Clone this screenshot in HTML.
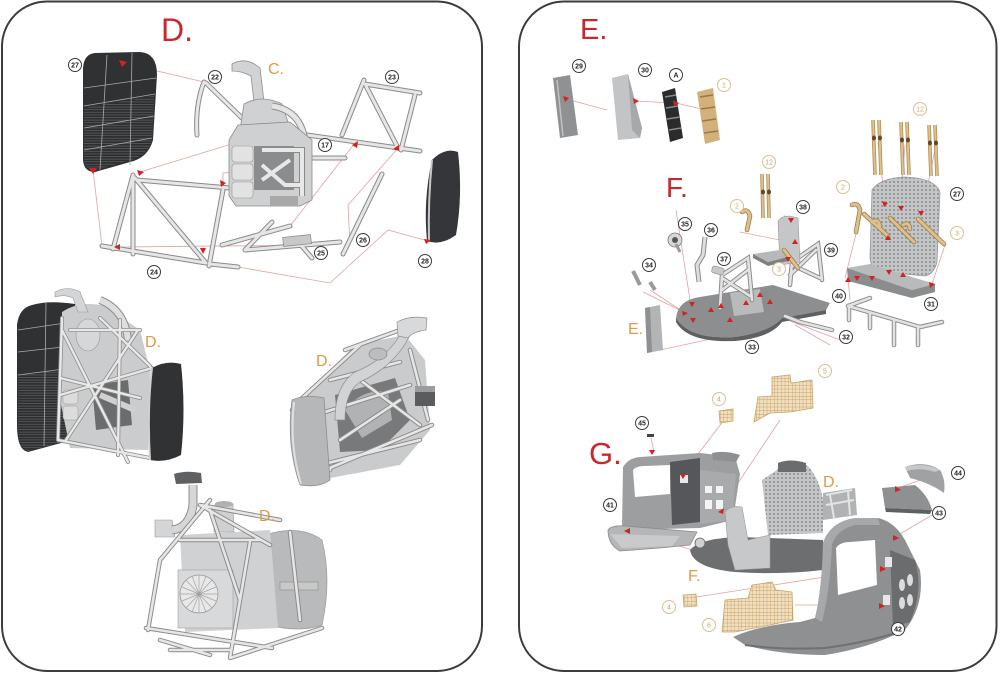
<!DOCTYPE html>
<html><head><meta charset="utf-8"><style>
html,body{margin:0;padding:0;background:#fff;}
svg{display:block;}
.n circle{fill:#fff;stroke:#3a3a3a;stroke-width:1;}
.n text{font-family:"Liberation Sans",sans-serif;font-size:7px;font-weight:bold;text-anchor:middle;fill:#222;}
.o circle{fill:#fff;stroke:#d8c096;stroke-width:1;}
.o text{font-family:"Liberation Sans",sans-serif;font-size:7px;text-anchor:middle;fill:#c9a46a;}
.big{font-family:"Liberation Sans",sans-serif;fill:#c8282c;}
.or{font-family:"Liberation Sans",sans-serif;fill:#df9a48;}
.rl{stroke:#e2a2a2;stroke-width:0.8;fill:none;}
.ar{fill:#d42222;}
</style></head><body>
<svg width="1000" height="679" viewBox="0 0 1000 679" xmlns="http://www.w3.org/2000/svg">
<defs>
<pattern id="dots" width="4" height="4" patternUnits="userSpaceOnUse"><rect width="4" height="4" fill="#c4c5c6"/><circle cx="2" cy="2" r="1" fill="#8a8c8e"/></pattern>
<pattern id="grid" width="3.6" height="3.6" patternUnits="userSpaceOnUse"><rect width="3.6" height="3.6" fill="#f1dfbd"/><path d="M0,0H3.6M0,0V3.6" stroke="#b38a52" stroke-width="0.6"/></pattern>
<pattern id="louv" width="6" height="2.6" patternUnits="userSpaceOnUse"><rect width="6" height="2.6" fill="#2c2e30"/><path d="M0,0.5H6" stroke="#6a6c6e" stroke-width="0.6"/></pattern>
<g id="tA">
<path d="M133,175 L113,249 M133,176 L133,254 M135,178 L206,263 M137,180 L230,188 M223,190 L209,266 M102,246 L206,263 M210,264 L238,267"/>
<path d="M204,82 Q195,105 197,135 M206,83 L244,120"/>
<path d="M364,80 L342,135 M365,84 L420,93 M366,86 L398,148 M415,95 L401,150 M258,128 L420,151"/>
<path d="M222,245 L290,226 M245,250 L272,222 M245,250 L340,242 M300,244 L312,258 M343,254 L382,174 M312,158 L345,158"/>
</g>
<g id="tB">
<path d="M62,318 L58,440 M58,440 L150,458 M60,395 L152,368 M62,330 L128,462 M66,440 L138,330 M60,378 L140,398 M100,318 L150,366 M70,330 L140,330 M120,320 L118,455"/>
</g>
<g id="tC">
<path d="M300,400 L360,345 M292,410 L330,470 M300,420 L410,385 M300,470 L420,440 M325,470 L432,425 M330,380 L400,362 M345,350 L400,330 M410,350 L428,420 M360,380 L420,425 M340,440 L400,400"/>
</g>
<g id="tD">
<path d="M146,628 L272,648 M148,630 L160,560 M160,560 L210,500 M200,505 L270,545 M210,510 L240,600 M250,542 L230,658 M230,658 L322,628 M290,532 L300,620 M200,505 L280,520 M180,540 L260,540 M230,650 L170,650 M160,640 L210,655"/>
</g>
</defs>

<!-- panels -->
<rect x="2" y="1.5" width="480" height="669.5" rx="45" ry="45" fill="#fff" stroke="#3c3c3c" stroke-width="2"/>
<rect x="519" y="1.5" width="477.5" height="669.5" rx="45" ry="45" fill="#fff" stroke="#3c3c3c" stroke-width="2"/>

<!-- ============ LEFT TOP ============ -->
<text x="161" y="41" class="big" font-size="32">D.</text>
<text x="268" y="74" class="or" font-size="16">C.</text>

<path class="rl" d="M123,63 L204,82 M93,170 L102,246 M140,172 L238,142 M223,183 L223,173 L236,172 M118,247 L330,245 M238,267 L330,283 L388,230 L428,241 M355,143 L290,226 M398,148 L348,205 L350,245"/>

<!-- panel 27 -->
<path d="M95,53 L140,52 Q157,53 157,75 L153,140 Q148,158 130,162 L95,172 Q84,172 83,160 L83,68 Q84,54 95,53 Z" fill="#2f3133"/>
<path d="M84,108 L154,96 L152,140 Q147,156 130,160 L95,170 Q85,170 84,160 Z" fill="url(#louv)"/>
<path d="M84,88 L156,78 M84,106 L155,94 M84,128 L154,116 M84,150 L152,138 M107,55 L100,170 M132,53 L130,165" stroke="#a8aaac" stroke-width="0.8" fill="none"/>

<!-- panel 28 -->
<path d="M432,160 Q445,147 458,152 Q463,195 456,235 Q441,246 427,241 Q423,200 432,160 Z" fill="#34363a"/>
<path d="M432,160 Q428,200 429,240" stroke="#c8c8c8" stroke-width="2" fill="none"/>

<use href="#tA" stroke="#8a8a8a" stroke-width="5" fill="none" stroke-linecap="round"/>
<use href="#tA" stroke="#e6e6e6" stroke-width="3" fill="none" stroke-linecap="round"/>
<rect x="283" y="236" width="28" height="9" fill="#c8c8c8" stroke="#888" stroke-width="0.7" transform="rotate(-6 297 240)"/>

<!-- engine C -->
<path d="M232,64 Q246,56 260,68 L264,102 L254,102 L251,76 Q242,71 232,71 Z" fill="#d2d3d4" stroke="#8e8e8e" stroke-width="0.8"/>
<path d="M244,104 Q262,94 282,104 L290,128 L240,130 Z" fill="#d0d1d2" stroke="#8e8e8e" stroke-width="0.8"/>
<path d="M272,106 Q300,110 305,140" stroke="#8e8e8e" stroke-width="7" fill="none"/>
<path d="M272,106 Q300,110 305,140" stroke="#e4e4e4" stroke-width="5" fill="none"/>
<path d="M238,125 L290,122 L312,140 L312,200 L300,206 L236,206 L229,196 L229,140 Z" fill="#cfd0d1" stroke="#8a8a8a" stroke-width="0.8"/>
<rect x="254" y="146" width="40" height="44" fill="#8a8c8e"/>
<rect x="232" y="146" width="21" height="16" rx="3" fill="#e2e2e2" stroke="#999" stroke-width="0.6"/>
<rect x="232" y="164" width="21" height="16" rx="3" fill="#e2e2e2" stroke="#999" stroke-width="0.6"/>
<rect x="232" y="182" width="21" height="16" rx="3" fill="#e2e2e2" stroke="#999" stroke-width="0.6"/>
<path d="M262,150 L302,150 L302,196 M262,165 L285,185 L302,185 M262,180 L290,160" stroke="#8a8a8a" stroke-width="6" fill="none"/>
<path d="M262,150 L302,150 L302,196 M262,165 L285,185 L302,185 M262,180 L290,160" stroke="#e8e8e8" stroke-width="4" fill="none"/>
<rect x="270" y="196" width="28" height="10" fill="#a8a8a8"/>

<g class="ar">
<polygon points="119,60 127,62 122,67"/><polygon points="89,168 97,168 93,174"/><polygon points="137,170 144,172 139,176"/>
<polygon points="220,180 226,183 221,187"/><polygon points="114,247 120,244 120,250"/><polygon points="200,248 206,248 203,254"/>
<polygon points="352,145 358,141 357,148"/><polygon points="393,149 399,145 399,151"/><polygon points="424,239 431,240 426,244"/>
</g>

<g class="n"><circle cx="75" cy="65" r="6.5"/><text x="75" y="67.5">27</text></g>
<g class="n"><circle cx="215" cy="77" r="6.5"/><text x="215" y="79.5">22</text></g>
<g class="n"><circle cx="392" cy="77" r="6.5"/><text x="392" y="79.5">23</text></g>
<g class="n"><circle cx="325" cy="145" r="6.5"/><text x="325" y="147.5">17</text></g>
<g class="n"><circle cx="363" cy="240" r="6.5"/><text x="363" y="242.5">26</text></g>
<g class="n"><circle cx="321" cy="253" r="6.5"/><text x="321" y="255.5">25</text></g>
<g class="n"><circle cx="425" cy="261" r="6.5"/><text x="425" y="263.5">28</text></g>
<g class="n"><circle cx="154" cy="272" r="6.5"/><text x="154" y="274.5">24</text></g>

<!-- ============ LEFT BOTTOM ============ -->
<!-- assembly 1 -->
<path d="M32,305 Q48,300 75,304 L72,440 L28,452 Q17,450 17,425 L17,325 Q19,308 32,305 Z" fill="#2f3133"/>
<path d="M18,375 L70,368 L70,440 L28,451 Q18,449 18,425 Z" fill="url(#louv)"/>
<path d="M18,330 L72,322 M18,352 L72,346 M18,375 L72,368 M46,302 L44,446" stroke="#a8aaac" stroke-width="0.8" fill="none"/>
<path d="M62,312 Q80,300 105,306 L140,330 L150,370 L148,450 L70,448 L60,400 Z" fill="#cbcccd"/>
<path d="M55,292 Q68,285 80,292 L88,312 L78,312 L73,298 Q64,294 55,297 Z" fill="#d4d5d6" stroke="#999" stroke-width="0.6"/>
<path d="M100,300 Q125,310 128,340" stroke="#8e8e8e" stroke-width="8" fill="none"/>
<path d="M100,300 Q125,310 128,340" stroke="#dedede" stroke-width="6" fill="none"/>
<ellipse cx="88" cy="335" rx="12" ry="16" fill="#d6d7d8" stroke="#9a9a9a" stroke-width="0.6"/>
<path d="M92,385 L128,380 L132,425 L96,430 Z" fill="#6a6c6e"/>
<path d="M100,395 L135,410" stroke="#d0d0d0" stroke-width="6"/>
<rect x="63" y="390" width="15" height="14" rx="3" fill="#dcdcdc" stroke="#999" stroke-width="0.5"/><rect x="63" y="406" width="15" height="14" rx="3" fill="#dcdcdc" stroke="#999" stroke-width="0.5"/>
<use href="#tB" stroke="#8e8e8e" stroke-width="4" fill="none" stroke-linecap="round"/>
<use href="#tB" stroke="#e8e8e8" stroke-width="2.4" fill="none" stroke-linecap="round"/>
<path d="M152,368 Q166,360 181,364 Q186,410 181,455 Q166,463 150,460 Q146,410 152,368 Z" fill="#303234"/>
<path d="M152,368 Q147,410 150,460" stroke="#cfcfcf" stroke-width="2" fill="none"/>
<text x="145" y="347" class="or" font-size="16">D.</text>

<!-- assembly 2 -->
<path d="M300,400 L355,345 L405,335 L425,360 L430,430 L400,465 L330,478 Z" fill="#cacbcc"/>
<path d="M335,395 L395,378 L410,420 L380,450 L340,452 Z" fill="#77797b"/>
<path d="M345,410 Q362,388 388,392 L392,420 L362,438 Z" fill="#b0b2b4"/>
<use href="#tC" stroke="#8a8a8a" stroke-width="4.5" fill="none" stroke-linecap="round"/>
<use href="#tC" stroke="#e6e6e6" stroke-width="2.6" fill="none" stroke-linecap="round"/>
<path d="M400,335 Q385,360 355,372 Q335,385 335,420 L345,420 Q345,392 360,382 Q395,366 410,335 Z" fill="#d2d3d4" stroke="#8e8e8e" stroke-width="0.7"/>
<path d="M397,322 Q410,315 427,318 L426,330 Q412,332 408,338 L398,336 Z" fill="#d8d9da" stroke="#8e8e8e" stroke-width="0.7"/>
<ellipse cx="378" cy="354" rx="9" ry="6" fill="#bcbdbe" stroke="#888" stroke-width="0.7"/>
<rect x="415" y="386" width="20" height="20" fill="#5a5c5e"/><rect x="415" y="386" width="20" height="6" fill="#9a9c9e"/>
<path d="M292,400 Q306,394 324,398 L330,480 Q320,488 300,485 Q286,445 292,400 Z" fill="#b6b7b8" stroke="#8e8e8e" stroke-width="0.8"/>
<path d="M294,402 Q289,445 301,484" stroke="#e0e0e0" stroke-width="2" fill="none"/>
<text x="316" y="366" class="or" font-size="16">D.</text>

<!-- assembly 3 -->
<path d="M265,535 Q300,524 322,540 Q332,580 322,625 Q300,633 268,625 Z" fill="#b9babb" stroke="#9a9a9a" stroke-width="0.7"/>
<path d="M180,535 L270,530 L278,628 L185,632 Z" fill="#d0d1d2"/>
<path d="M215,504 L233,504 L234,532 L214,532 Z" fill="#cfd0d1" stroke="#999" stroke-width="0.6"/>
<ellipse cx="224" cy="504" rx="9" ry="3" fill="#b0b1b2"/>
<rect x="178" y="570" width="55" height="58" fill="#d8d9da" stroke="#a0a0a0" stroke-width="0.6"/>
<circle cx="199" cy="594" r="19" fill="#e8e8e8" stroke="#9a9a9a" stroke-width="0.8"/>
<path d="M199,594 L199,575 M199,594 L212,580 M199,594 L218,594 M199,594 L212,608 M199,594 L199,613 M199,594 L186,608 M199,594 L180,594 M199,594 L186,580 M199,594 L206,576 M199,594 L216,587 M199,594 L216,601 M199,594 L206,612 M199,594 L192,612 M199,594 L182,601 M199,594 L182,587 M199,594 L192,576" stroke="#a4a4a4" stroke-width="0.7"/>
<rect x="280" y="582" width="38" height="8" fill="#c8c8c8" stroke="#8a8a8a" stroke-width="0.6"/>
<path d="M155,520 L172,520 L175,537 L155,537 Z" fill="#d4d5d6" stroke="#999" stroke-width="0.6"/>
<path d="M172,530 Q190,528 193,505 L193,485" stroke="#8e8e8e" stroke-width="9" fill="none"/>
<path d="M172,530 Q190,528 193,505 L193,485" stroke="#d6d7d8" stroke-width="7" fill="none"/>
<path d="M174,474 Q186,470 201,473 L202,483 L176,484 Z" fill="#5e6062"/>
<use href="#tD" stroke="#8a8a8a" stroke-width="4.5" fill="none" stroke-linecap="round"/>
<use href="#tD" stroke="#e6e6e6" stroke-width="2.6" fill="none" stroke-linecap="round"/>
<text x="259" y="521" class="or" font-size="16">D.</text>

<!-- ============ RIGHT TOP E ============ -->
<text x="580" y="39" class="big" font-size="29">E.</text>
<path class="rl" d="M566,99 L607,110 M636,101 L672,103 M676,103 L706,110"/>
<polygon points="553,78 570,75 578,135 560,138" fill="#8f9193"/>
<path d="M557,80 L563,136" stroke="#c0c2c4" stroke-width="1.5"/>
<polygon points="612,78 628,74 642,128 640,138 618,140" fill="#c2c4c6"/>
<polygon points="628,74 642,128 640,138 632,130" fill="#a6a8aa"/>
<polygon points="662,92 675,88 683,138 670,142" fill="#2a2b2c"/>
<path d="M665,97 L676,95 M666,108 L678,106 M667,119 L680,117 M669,130 L681,128" stroke="#8a8a8a" stroke-width="1.5"/>
<polygon points="697,92 713,88 720,140 705,144" fill="#d2b27a"/>
<path d="M700,97 L713,95 M701,109 L715,107 M702,121 L716,119 M704,133 L718,131" stroke="#9a7a44" stroke-width="1.5"/>
<g class="ar"><polygon points="563,96 569,98 565,102"/><polygon points="633,98 639,101 634,104"/><polygon points="673,100 679,103 674,106"/></g>
<g class="n"><circle cx="579" cy="66" r="6.5"/><text x="579" y="68.5">29</text></g>
<g class="n"><circle cx="645" cy="70" r="6.5"/><text x="645" y="72.5">30</text></g>
<g class="n"><circle cx="676" cy="75" r="6.5"/><text x="676" y="77.5">A</text></g>
<g class="o"><circle cx="724" cy="85" r="6.5"/><text x="724" y="87.5">1</text></g>

<!-- ============ RIGHT F ============ -->
<text x="666" y="197" class="big" font-size="28">F.</text>
<path class="rl" d="M676,210 L690,300 M650,290 L688,315 M643,292 L700,320 M660,350 L720,337 M795,325 L830,345 M782,318 L840,340 M740,232 L795,243 M784,215 L800,263 M848,278 L850,300 M857,230 L845,278 M878,142 L885,203 M905,145 L900,208 M935,150 L922,213 M945,245 L932,284 M888,240 L888,268 M905,240 L903,276"/>
<path d="M676,318 Q678,300 700,297 L773,285 L830,303 L826,310 L782,318 Q770,332 735,337 Q690,340 676,318 Z" fill="#8c8e90"/>
<path d="M676,318 Q690,340 735,337 Q770,332 782,318 L826,310 L826,314 L782,322 Q770,338 735,341 Q688,343 676,322 Z" fill="#5e6062"/>
<path d="M730,293 L760,289 L764,312 L734,316 Z" fill="#b8babc"/>
<path d="M760,289 L764,312 L770,310 L767,288 Z" fill="#8a8c8e"/>
<path d="M720,308 L722,275 L748,258 L752,300 M722,278 L750,296 M722,290 L748,270 M790,285 L792,262 L818,244 L822,280 M792,265 L820,278 M790,275 L816,250 M800,322 L832,330 M785,316 L800,322" stroke="#8a8a8a" stroke-width="4.5" fill="none" stroke-linecap="round"/>
<path d="M720,308 L722,275 L748,258 L752,300 M722,278 L750,296 M722,290 L748,270 M790,285 L792,262 L818,244 L822,280 M792,265 L820,278 M790,275 L816,250 M800,322 L832,330 M785,316 L800,322" stroke="#e2e2e2" stroke-width="2.6" fill="none" stroke-linecap="round"/>
<path d="M778,222 Q780,216 790,216 L798,218 L800,262 L780,265 Z" fill="#c4c6c8" stroke="#999" stroke-width="0.6"/>
<path d="M753,254 L780,250 L792,256 L768,262 Z" fill="#b6b8ba"/>
<path d="M753,254 L768,262 L792,256 L792,260 L768,266 L753,258 Z" fill="#7e8082"/>
<circle cx="675" cy="240" r="7" fill="#d8d8d8" stroke="#777" stroke-width="0.8"/><circle cx="675" cy="240" r="3" fill="#555"/>
<path d="M676,244 L680,252" stroke="#999" stroke-width="3"/>
<path d="M705,237 L703,255 L697,265 L699,282" stroke="#8a8a8a" stroke-width="5" fill="none"/>
<path d="M705,237 L703,255 L697,265 L699,282" stroke="#dedede" stroke-width="3" fill="none"/>
<rect x="712" y="267" width="12" height="7" rx="2" fill="#c8c8c8" stroke="#888" stroke-width="0.6" transform="rotate(15 718 270)"/>
<path d="M633,271 L640,285 M650,282 L655,290" stroke="#9a9a9a" stroke-width="4"/>
<path d="M645,308 L660,305 L663,350 L647,353 Z" fill="#b2b4b6"/>
<path d="M645,308 L650,307 L652,352 L647,353 Z" fill="#8e9092"/>
<path d="M762,174 L763,218 M768,174 L769,218 M873,120 L875,175 M879,120 L881,175 M901,122 L903,175 M907,122 L909,175 M929,125 L931,176 M935,125 L937,176" stroke="#b48e55" stroke-width="3.6"/>
<path d="M762,174 L763,218 M768,174 L769,218 M873,120 L875,175 M879,120 L881,175 M901,122 L903,175 M907,122 L909,175 M929,125 L931,176 M935,125 L937,176" stroke="#dcc08e" stroke-width="2"/>
<g fill="#5a4a30"><ellipse cx="763" cy="192" rx="2" ry="2.5"/><ellipse cx="769" cy="192" rx="2" ry="2.5"/><ellipse cx="874" cy="138" rx="2" ry="2.5"/><ellipse cx="880" cy="138" rx="2" ry="2.5"/><ellipse cx="902" cy="140" rx="2" ry="2.5"/><ellipse cx="908" cy="140" rx="2" ry="2.5"/><ellipse cx="930" cy="143" rx="2" ry="2.5"/><ellipse cx="936" cy="143" rx="2" ry="2.5"/></g>
<path d="M872,190 Q880,178 905,177 Q935,178 940,192 L937,262 Q934,274 925,276 L882,272 Q871,270 870,258 Z" fill="url(#dots)" stroke="#9a9a9a" stroke-width="0.8"/>
<polygon points="847,268 870,264 935,284 912,290" fill="#b8babc"/>
<polygon points="847,268 912,290 935,284 935,292 912,298 848,281" fill="#8a8c8e"/>
<path d="M848,306 L870,298 M848,306 L920,327 L942,322 M849,307 L849,320 M870,313 L870,328 M894,320 L894,345 M918,328 L918,345" stroke="#8a8a8a" stroke-width="4.5" fill="none" stroke-linecap="round"/>
<path d="M848,306 L870,298 M848,306 L920,327 L942,322 M849,307 L849,320 M870,313 L870,328 M894,320 L894,345 M918,328 L918,345" stroke="#e2e2e2" stroke-width="2.6" fill="none" stroke-linecap="round"/>
<path d="M742,212 Q748,208 750,216 L747,230 M784,250 L798,268 M852,205 Q858,202 860,210 L856,232 M864,214 L888,236 M890,218 L914,242 M918,219 L944,244 M872,222 Q878,218 880,226 M903,225 Q909,221 910,229" stroke="#a07c44" stroke-width="4.6" fill="none" stroke-linecap="round"/>
<path d="M742,212 Q748,208 750,216 L747,230 M784,250 L798,268 M852,205 Q858,202 860,210 L856,232 M864,214 L888,236 M890,218 L914,242 M918,219 L944,244 M872,222 Q878,218 880,226 M903,225 Q909,221 910,229" stroke="#dcc08e" stroke-width="3" fill="none" stroke-linecap="round"/>
<g class="ar">
<polygon points="792,244 798,244 795,239"/><polygon points="785,257 791,257 788,262"/><polygon points="788,218 794,218 791,223"/>
<polygon points="689,302 695,302 692,307"/><polygon points="682,311 688,313 683,316"/><polygon points="690,318 696,318 693,323"/>
<polygon points="708,312 714,312 711,307"/><polygon points="718,308 724,308 721,303"/><polygon points="727,322 733,322 730,317"/>
<polygon points="743,305 749,305 746,300"/><polygon points="757,297 763,297 760,292"/><polygon points="767,304 773,304 770,299"/>
<polygon points="882,201 888,203 884,207"/><polygon points="898,206 904,206 901,211"/><polygon points="918,211 924,211 921,216"/>
<polygon points="885,240 891,240 888,235"/><polygon points="869,276 875,276 872,281"/><polygon points="886,270 892,270 889,275"/>
<polygon points="900,277 906,277 903,272"/><polygon points="929,282 935,284 930,288"/><polygon points="845,282 851,282 848,277"/><polygon points="854,276 860,276 857,281"/>
</g>
<g class="o"><circle cx="920" cy="109" r="6.5"/><text x="920" y="111.5">12</text></g>
<g class="o"><circle cx="769" cy="162" r="6.5"/><text x="769" y="164.5">12</text></g>
<g class="o"><circle cx="843" cy="187" r="6.5"/><text x="843" y="189.5">2</text></g>
<g class="n"><circle cx="957" cy="194" r="6.5"/><text x="957" y="196.5">27</text></g>
<g class="o"><circle cx="737" cy="206" r="6.5"/><text x="737" y="208.5">2</text></g>
<g class="n"><circle cx="803" cy="207" r="6.5"/><text x="803" y="209.5">38</text></g>
<g class="n"><circle cx="685" cy="224" r="6.5"/><text x="685" y="226.5">35</text></g>
<g class="n"><circle cx="711" cy="230" r="6.5"/><text x="711" y="232.5">36</text></g>
<g class="o"><circle cx="957" cy="233" r="6.5"/><text x="957" y="235.5">3</text></g>
<g class="n"><circle cx="831" cy="250" r="6.5"/><text x="831" y="252.5">39</text></g>
<g class="n"><circle cx="724" cy="259" r="6.5"/><text x="724" y="261.5">37</text></g>
<g class="o"><circle cx="779" cy="269" r="6.5"/><text x="779" y="271.5">3</text></g>
<g class="n"><circle cx="649" cy="265" r="6.5"/><text x="649" y="267.5">34</text></g>
<g class="n"><circle cx="839" cy="296" r="6.5"/><text x="839" y="298.5">40</text></g>
<g class="n"><circle cx="931" cy="304" r="6.5"/><text x="931" y="306.5">31</text></g>
<g class="n"><circle cx="846" cy="337" r="6.5"/><text x="846" y="339.5">32</text></g>
<g class="n"><circle cx="752" cy="347" r="6.5"/><text x="752" y="349.5">33</text></g>
<text x="628" y="334" class="or" font-size="16">E.</text>

<!-- ============ RIGHT G ============ -->
<text x="589" y="464" class="big" font-size="31">G.</text>
<path class="rl" d="M651,438 L654,452 M724,420 L682,475 M780,420 L720,510 M627,531 L700,552 M940,473 L898,488 M932,515 L895,537 M690,598 L883,568 M795,605 L882,605"/>
<polygon points="754,422 758,397 772,396 772,377 790,375 791,383 812,380 813,408 790,412 770,413" fill="url(#grid)" stroke="#c8a468" stroke-width="0.8"/>
<polygon points="719,411 733,409 733,421 720,423" fill="url(#grid)" stroke="#c8a468" stroke-width="0.8"/>
<!-- door 41 -->
<path d="M623,467 Q628,458 640,457 L700,453 L735,457 L740,474 L733,520 L700,528 L622,530 Z" fill="#9c9ea0"/>
<path d="M633,470 Q636,466 645,466 L670,465 L670,494 L635,497 Z" fill="#fff"/>
<path d="M670,462 L700,458 L700,522 L672,525 Z" fill="#55575a"/>
<path d="M700,470 L736,474 L732,520 L700,524 Z" fill="#a8aaac"/>
<rect x="705" y="486" width="7" height="7" fill="#f4f4f4"/><rect x="716" y="486" width="7" height="7" fill="#f4f4f4"/><rect x="705" y="500" width="7" height="9" fill="#f4f4f4"/><rect x="716" y="500" width="7" height="9" fill="#f4f4f4"/>
<rect x="680" y="475" width="8" height="8" fill="#e8e8e8"/>
<path d="M608,530 Q612,525 625,526 L697,532 L690,545 L660,548 L620,551 Q608,545 608,530 Z" fill="#b4b6b8" stroke="#8a8c8e" stroke-width="0.8"/>
<path d="M610,534 L680,536 L672,546 L622,548 Z" fill="#c8cacb"/>
<path d="M712,453 Q725,450 740,455 L736,462 L713,460 Z" fill="#8e9092"/>
<!-- floor F -->
<path d="M690,550 Q700,538 740,537 L823,540 L823,570 Q780,575 735,572 Q693,568 690,550 Z" fill="#6c6e70"/>
<!-- seat back mesh -->
<path d="M777,470 Q785,462 800,463 L808,466 Q820,480 823,500 L823,533 L768,535 L762,480 Z" fill="url(#dots)"/>
<path d="M778,463 Q790,458 806,463 L806,472 L778,472 Z" fill="#6a6c6e"/>
<path d="M823,493 L855,488 L857,515 L823,520 Z" fill="#b0b2b4"/>
<path d="M826,495 L852,490 M826,505 L854,500 M830,495 L834,518 M848,491 L850,515" stroke="#e4e4e4" stroke-width="2"/>
<!-- seat front -->
<path d="M725,512 Q730,505 742,507 L748,540 L770,535 L770,568 L735,570 L728,545 Z" fill="#c6c8ca" stroke="#999" stroke-width="0.6"/>
<circle cx="700" cy="543" r="5" fill="#d0d0d0" stroke="#666" stroke-width="0.8"/>
<!-- fuselage 42 -->
<path d="M823,543 Q830,522 855,518 L878,518 Q895,522 905,540 L920,570 Q925,605 905,630 Q870,648 825,655 Q780,655 745,645 L733,637 Q760,625 800,622 L815,618 Q822,590 823,543 Z" fill="#8e9092"/>
<path d="M823,543 Q822,590 815,618 L822,622 Q830,590 832,545 Q836,530 855,525 L880,525 L878,518 L855,518 Q830,522 823,543 Z" fill="#a6a8aa"/>
<path d="M836,548 Q840,542 850,542 L875,540 L877,585 L838,595 Z" fill="#fff"/>
<path d="M890,550 L915,560 Q924,590 910,622 L893,627 Z" fill="#6a6c6e"/>
<ellipse cx="902" cy="585" rx="3" ry="6" fill="#dcdcdc"/><ellipse cx="910" cy="580" rx="3" ry="6" fill="#dcdcdc"/><ellipse cx="902" cy="603" rx="3" ry="6" fill="#dcdcdc"/><ellipse cx="910" cy="600" rx="3" ry="6" fill="#dcdcdc"/>
<rect x="885" y="557" width="7" height="10" fill="#e8e8e8"/><rect x="883" y="595" width="7" height="10" fill="#e8e8e8"/>
<path d="M745,645 Q780,650 825,648 Q870,642 905,630" stroke="#6e7072" stroke-width="2" fill="none"/>
<!-- parts 44 43 -->
<path d="M905,467 Q925,460 940,470 Q946,480 944,493 Q930,483 910,478 Z" fill="#9fa1a3"/>
<path d="M905,467 Q925,462 940,470 L935,472 Q920,467 907,471 Z" fill="#c8c8c8"/>
<path d="M882,488 L915,485 Q928,495 932,510 L885,508 Z" fill="#8e9092"/>
<path d="M885,508 L932,510 L930,514 L886,512 Z" fill="#5e6062"/>
<rect x="647" y="434" width="7" height="3" fill="#444"/>
<polygon points="722,632 725,600 748,598 752,585 772,582 776,590 792,592 793,620 770,625 735,632" fill="url(#grid)" stroke="#c8a468" stroke-width="0.8"/>
<polygon points="683,595 696,594 697,606 684,607" fill="url(#grid)" stroke="#c8a468" stroke-width="0.8"/>
<g class="ar">
<polygon points="649,450 655,450 652,455"/><polygon points="680,474 686,474 683,479"/><polygon points="718,512 724,508 723,514"/>
<polygon points="624,531 630,528 630,534"/><polygon points="895,486 901,490 895,492"/><polygon points="893,535 899,538 893,541"/>
<polygon points="880,566 886,569 880,572"/><polygon points="879,603 885,606 879,609"/>
</g>
<g class="o"><circle cx="825" cy="371" r="6.5"/><text x="825" y="373.5">5</text></g>
<g class="o"><circle cx="719" cy="399" r="6.5"/><text x="719" y="401.5">4</text></g>
<g class="n"><circle cx="642" cy="423" r="6.5"/><text x="642" y="425.5">45</text></g>
<g class="n"><circle cx="958" cy="473" r="6.5"/><text x="958" y="475.5">44</text></g>
<g class="n"><circle cx="610" cy="505" r="6.5"/><text x="610" y="507.5">41</text></g>
<g class="n"><circle cx="939" cy="513" r="6.5"/><text x="939" y="515.5">43</text></g>
<g class="o"><circle cx="669" cy="607" r="6.5"/><text x="669" y="609.5">4</text></g>
<g class="o"><circle cx="709" cy="625" r="6.5"/><text x="709" y="627.5">6</text></g>
<g class="n"><circle cx="898" cy="629" r="6.5"/><text x="898" y="631.5">42</text></g>
<text x="823" y="487" class="or" font-size="16">D.</text>
<text x="688" y="581" class="or" font-size="16">F.</text>
</svg>
</body></html>
